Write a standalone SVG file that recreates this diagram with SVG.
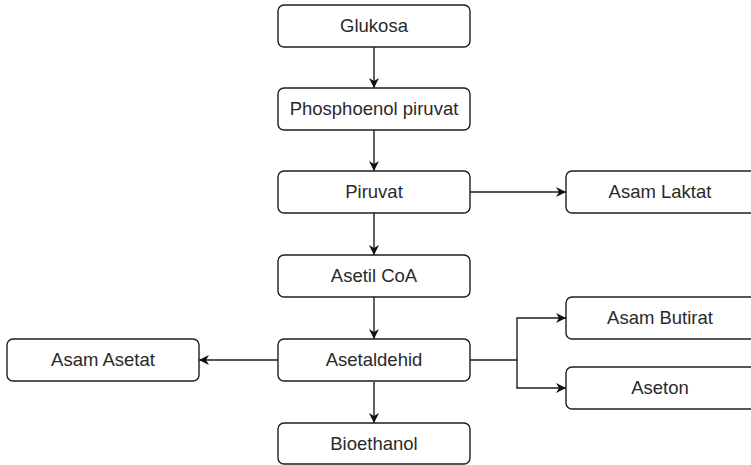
<svg xmlns="http://www.w3.org/2000/svg" width="751" height="465" viewBox="0 0 751 465">
<defs>
<style>
.box{fill:#fff;stroke:#1e1e1e;stroke-width:1.4}
.lbl{font-family:"Liberation Sans",Arial,sans-serif;font-size:18.5px;fill:#2a2a2a;text-anchor:middle}
.edge{fill:none;stroke:#1e1e1e;stroke-width:1.4}
</style>
<marker id="ah" viewBox="0 0 10 10" refX="10" refY="5" markerWidth="10" markerHeight="10" markerUnits="userSpaceOnUse" orient="auto">
<path d="M0,0 L10,5 L0,10 L3,5 Z" fill="#111"/>
</marker>
</defs>
<rect width="751" height="465" fill="#fff"/>
<g id="connectors">
<path class="edge" d="M374,47 V88" marker-end="url(#ah)"/>
<path class="edge" d="M374,130 V171" marker-end="url(#ah)"/>
<path class="edge" d="M374,213 V255" marker-end="url(#ah)"/>
<path class="edge" d="M374,297 V339" marker-end="url(#ah)"/>
<path class="edge" d="M374,382 V423" marker-end="url(#ah)"/>
<path class="edge" d="M470,192 H566" marker-end="url(#ah)"/>
<path class="edge" d="M278,360 H199" marker-end="url(#ah)"/>
<path class="edge" d="M470,360 H517 V318 H566" marker-end="url(#ah)"/>
<path class="edge" d="M517,360 V388 H566" marker-end="url(#ah)"/>
</g>
<g id="glukosa"><rect class="box" x="278" y="5" width="192" height="42" rx="6"/><text class="lbl" x="374" y="32">Glukosa</text></g>
<g id="phosphoenol"><rect class="box" x="278" y="88" width="192" height="42" rx="6"/><text class="lbl" x="374" y="115">Phosphoenol piruvat</text></g>
<g id="piruvat"><rect class="box" x="278" y="171" width="192" height="42" rx="6"/><text class="lbl" x="374" y="198">Piruvat</text></g>
<g id="asam-laktat"><rect class="box" x="566" y="171" width="190" height="42" rx="6"/><text class="lbl" x="660" y="198">Asam Laktat</text></g>
<g id="asetil-coa"><rect class="box" x="278" y="255" width="192" height="42" rx="6"/><text class="lbl" x="374" y="282">Asetil CoA</text></g>
<g id="asetaldehid"><rect class="box" x="278" y="339" width="192" height="42" rx="6"/><text class="lbl" x="374" y="366">Asetaldehid</text></g>
<g id="asam-asetat"><rect class="box" x="7" y="339" width="192" height="42" rx="6"/><text class="lbl" x="103" y="366">Asam Asetat</text></g>
<g id="asam-butirat"><rect class="box" x="566" y="297" width="190" height="42" rx="6"/><text class="lbl" x="660" y="324">Asam Butirat</text></g>
<g id="aseton"><rect class="box" x="566" y="367" width="190" height="42" rx="6"/><text class="lbl" x="660" y="394">Aseton</text></g>
<g id="bioethanol"><rect class="box" x="278" y="423" width="192" height="41" rx="6"/><text class="lbl" x="374" y="450">Bioethanol</text></g>
</svg>
